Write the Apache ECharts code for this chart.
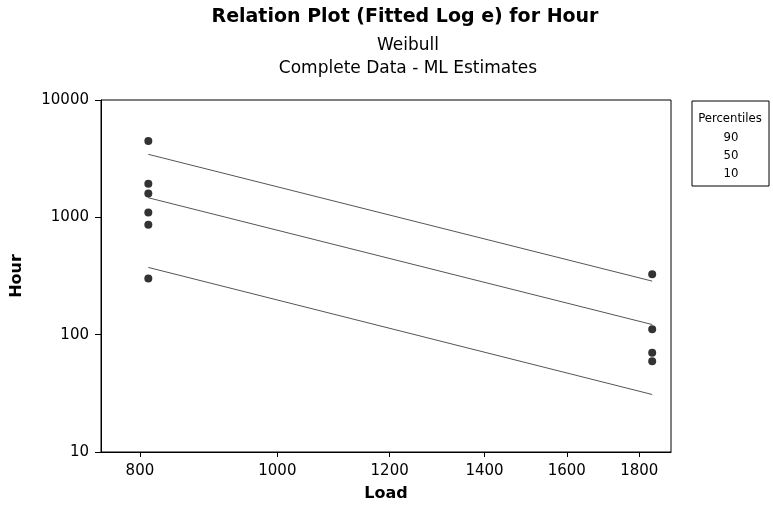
<!DOCTYPE html>
<html>
<head>
<meta charset="utf-8">
<script src="https://cdn.jsdelivr.net/npm/echarts@6/dist/echarts.min.js"></script>
<style>
	html, body { margin: 0; padding: 0; background: #fff; }
	#main { width: 773px; height: 507px; }
</style>
</head>
<body>
<div id="main"></div>
<script>
	// data
	var loadTicks = [800, 1000, 1200, 1400, 1600, 1800];
	var lowLoad = 811, highLoad = 1838;
	var hoursLow = [4470, 1930, 1600, 1100, 865, 301];
	var hoursHigh = [328, 111, 70, 59.4];
	var percentiles = ['90', '50', '10'];
	var fitStart = [3443, 1468, 374];
	var fitEnd = [286, 122, 30.9];

	var font = '"DejaVu Sans", "Liberation Sans", sans-serif';
	var fontNarrow = '"DejaVu Sans Condensed", "DejaVu Sans", sans-serif';

	var points = [];
	hoursLow.forEach(function(h){ points.push([lowLoad, h]); });
	hoursHigh.forEach(function(h){ points.push([highLoad, h]); });

	var series = [{
		name: 'Data',
		type: 'scatter',
		symbol: 'circle',
		symbolSize: 8,
		itemStyle: { color: '#000' },
		data: points,
		z: 3
	}];
	percentiles.forEach(function(p, i){
		series.push({
			name: p,
			type: 'line',
			showSymbol: false,
			lineStyle: { color: '#555', width: 1 },
			data: [[lowLoad, fitStart[i]], [highLoad, fitEnd[i]]]
		});
	});

	function plain(v){ return String(Math.round(v)); }

	var chart = echarts.init(document.getElementById('main'));
	var option = {
		backgroundColor: '#fff',
		animation: false,
		title: [{
			text: 'Relation Plot (Fitted Log e) for Hour',
			left: 400, top: 3, textAlign: 'center',
			textStyle: { fontFamily: font, fontSize: 19, fontWeight: 'bold', color: '#000' }
		}, {
			text: 'Weibull\nComplete Data - ML Estimates',
			left: 403, top: 29, textAlign: 'center',
			textStyle: { fontFamily: font, fontSize: 17, fontWeight: 'normal', color: '#000', lineHeight: 23 }
		}],
		grid: {
			left: 101, right: 102, top: 100, bottom: 55,
			show: true, borderColor: '#000', borderWidth: 1
		},
		xAxis: {
			type: 'log',
			logBase: Math.E,
			min: 751, max: 1895,
			name: 'Load',
			nameLocation: 'middle',
			nameGap: 34,
			nameTextStyle: { fontFamily: font, fontSize: 16, fontWeight: 'bold', color: '#000' },
			axisLine: { show: true, lineStyle: { color: '#000' } },
			axisTick: { show: true, length: 5, customValues: loadTicks, lineStyle: { color: '#000' } },
			axisLabel: { customValues: loadTicks, formatter: plain, fontFamily: font, fontSize: 15, color: '#000', margin: 12 },
			splitLine: { show: false },
			minorTick: { show: false }
		},
		yAxis: {
			type: 'log',
			logBase: 10,
			min: 10, max: 10000,
			name: 'Hour',
			nameLocation: 'middle',
			nameGap: 76,
			nameTextStyle: { fontFamily: font, fontSize: 16, fontWeight: 'bold', color: '#000' },
			axisLine: { show: true, lineStyle: { color: '#000' } },
			axisTick: { show: true, length: 6, lineStyle: { color: '#000' } },
			axisLabel: { formatter: plain, fontFamily: font, fontSize: 15, color: '#000', margin: 12 },
			splitLine: { show: false },
			minorTick: { show: false }
		},
		graphic: [{
			type: 'rect',
			shape: { x: 692, y: 101, width: 77, height: 85 },
			style: { fill: '#fff', stroke: '#000', lineWidth: 1 }
		}, {
			type: 'text',
			x: 730, y: 119,
			style: { text: 'Percentiles', fontFamily: fontNarrow, fontSize: 13, fill: '#000', align: 'center', verticalAlign: 'middle' }
		}].concat(percentiles.map(function(p, i){
			return {
				type: 'text',
				x: 731, y: 138 + i * 18,
				style: { text: p, fontFamily: fontNarrow, fontSize: 13, fill: '#000', align: 'center', verticalAlign: 'middle' }
			};
		})),
		series: series
	};
	chart.setOption(option);
</script>
</body>
</html>
